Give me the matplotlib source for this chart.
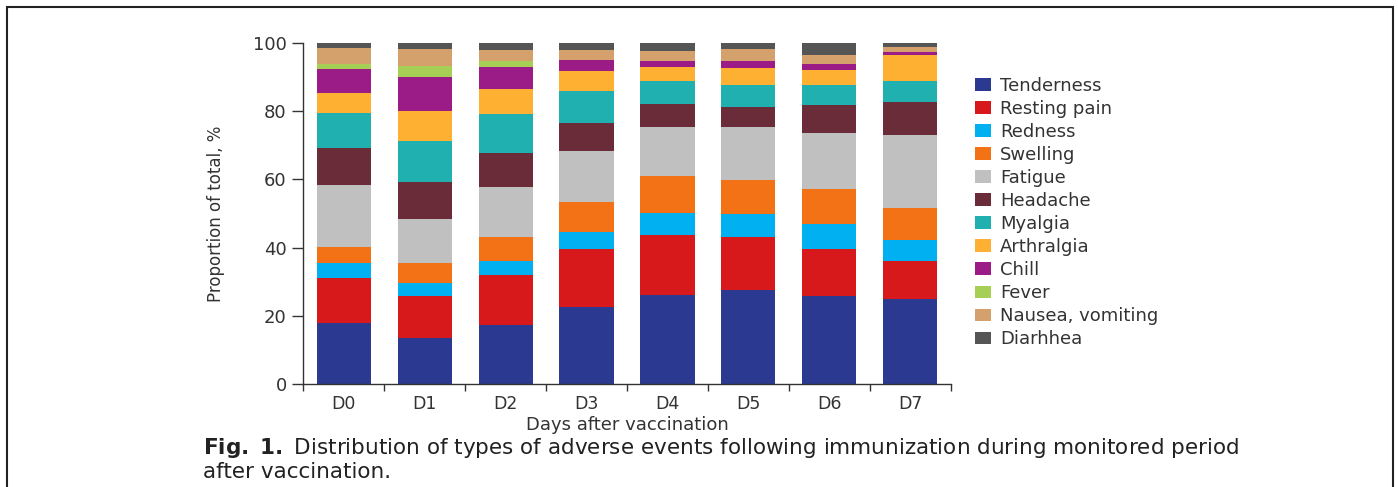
import matplotlib.pyplot as plt
import numpy as np
from matplotlib.patches import Rectangle

giorni = ['D0', 'D1', 'D2', 'D3', 'D4', 'D5', 'D6', 'D7']
eventi = ['Tenderness', 'Resting pain', 'Redness', 'Swelling', 'Fatigue', 'Headache',
          'Myalgia', 'Arthralgia', 'Chill', 'Fever', 'Nausea, vomiting', 'Diarhhea']

# proportion of total (%) per day, one list per event type
tenderness = [17.8, 13.5, 17.3, 22.5, 26.1, 27.5, 25.9, 24.8]
resting_pain = [13.4, 12.3, 14.6, 17.2, 17.6, 15.7, 13.8, 11.2]
redness = [4.2, 3.7, 4.1, 4.9, 6.5, 6.6, 7.1, 6.2]
swelling = [4.8, 5.9, 7.0, 8.8, 10.7, 10.0, 10.4, 9.3]
fatigue = [18.1, 13.1, 14.8, 14.9, 14.5, 15.6, 16.4, 21.6]
headache = [11.0, 10.8, 9.8, 8.1, 6.8, 5.7, 8.1, 9.6]
myalgia = [10.3, 12.0, 11.7, 9.4, 6.6, 6.7, 6.1, 6.3]
arthralgia = [5.8, 8.8, 7.2, 5.9, 4.1, 4.9, 4.4, 7.6]
chill = [6.9, 9.8, 6.4, 3.4, 1.7, 2.1, 1.7, 0.9]
fever = [1.4, 3.5, 1.7, 0.0, 0.0, 0.0, 0.0, 0.0]
nausea = [4.7, 4.9, 3.4, 2.9, 3.1, 3.4, 2.5, 1.2]
diarrhea = [1.6, 1.7, 2.0, 2.0, 2.3, 1.8, 3.6, 1.3]

serie = [tenderness, resting_pain, redness, swelling, fatigue, headache,
         myalgia, arthralgia, chill, fever, nausea, diarrhea]
colori = ['#2b3990', '#d7191c', '#00b0f0', '#f47216', '#c0c0c0', '#6b2c3a',
          '#20b0b0', '#fdb032', '#9b1b87', '#a8cf55', '#d4a06c', '#555555']

fig = plt.figure(figsize=(13.98, 4.87), dpi=100)
ax = fig.add_axes([0.217, 0.2115, 0.463, 0.7002])

x = np.arange(len(giorni))
base = np.zeros(len(giorni))
barre = []
for valori, colore, nome in zip(serie, colori, eventi):
    b = ax.bar(x, valori, width=0.67, bottom=base, color=colore, label=nome, linewidth=0)
    barre.append(b)
    base = base + np.array(valori)

ax.set_xlim(-0.5, 7.5)
ax.set_ylim(0, 100)
ax.set_yticks([0, 20, 40, 60, 80, 100])
ax.set_xticks(x)
ax.set_xticklabels(giorni)
ax.set_xticks(np.arange(-0.5, 8, 1), minor=True)
ax.tick_params(axis='x', which='major', length=0, pad=8, labelsize=12.5, colors='#333333')
ax.tick_params(axis='x', which='minor', length=5, width=1, color='#333333')
ax.tick_params(axis='y', length=8, width=1, labelsize=13, colors='#333333', pad=4)
for s in ['top', 'right']:
    ax.spines[s].set_visible(False)
for s in ['left', 'bottom']:
    ax.spines[s].set_color('#333333')
    ax.spines[s].set_linewidth(1)

ax.set_xlabel('Days after vaccination', fontsize=13, color='#333333', labelpad=2)
ax.set_ylabel('Proportion of total, %', fontsize=12, color='#333333', labelpad=20)

fig.legend(handles=barre, labels=eventi, loc='center left', bbox_to_anchor=(0.691, 0.5637),
           frameon=False, fontsize=13, handlelength=0.9, handleheight=0.7,
           handletextpad=0.5, labelspacing=0.28, borderpad=0, labelcolor='#333333')

fig.text(0.145, 0.068, r'$\bf{Fig.\ 1.}$ Distribution of types of adverse events following immunization during monitored period',
         fontsize=15.5, color='#222222')
fig.text(0.145, 0.018, 'after vaccination.', fontsize=15.5, color='#222222')

fig.patches.append(Rectangle((7 / 1398, -0.02), 1386 / 1398, 1 - 7 / 487 + 0.02,
                             transform=fig.transFigure, fill=False,
                             edgecolor='#222222', linewidth=1.5))

fig.savefig('out.png', dpi=100)
